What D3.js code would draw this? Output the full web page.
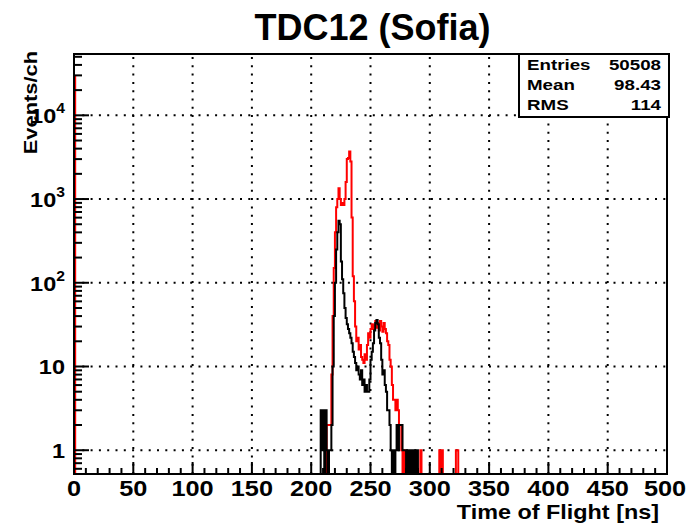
<!DOCTYPE html>
<html>
<head>
<meta charset="utf-8">
<script src="https://cdn.jsdelivr.net/npm/d3@7"></script>
<style>
  body { margin: 0; background: #fff; }
  svg { display: block; font-family: "Liberation Sans", Arial, sans-serif; font-weight: bold; }
</style>
</head>
<body>
<div id="chart"></div>
<script>
// histogram contents, 1 ns per channel
const redFirstBin = 0
const redFirstCount = 29000 // big channel at t = 0 (hugs the left frame)

const redStart = 206
const redCounts = [
  0, 0, 0, 0, 0, 0, 0,                // 206-212
  2, 2, 2, 2,                         // 213-216
  8, 40, 150, 400, 800, 1000, 1350,   // 217-223
  1000, 850, 900, 850, 1000, 1600,    // 224-229
  3000, 3100, 3700, 2800, 600,        // 230-234
  120, 60, 30, 20, 22, 16, 18, 13,    // 235-242
  12, 11, 14, 12, 18, 25, 22, 28,     // 243-250
  32, 28, 31, 35, 29, 33, 27, 35,     // 251-258
  30, 26, 33, 28, 25, 20, 18, 12,     // 259-266
  10, 6, 4, 4, 3, 4, 3, 2, 2, 1, 0, 1,// 267-278
  0, 0, 0, 0, 0, 0, 0, 0, 0, 0, 0, 0, 0, // 279-291
  1,                                  // 292
  0, 0, 0, 0, 0, 0, 0, 0, 0, 0, 0, 0, 0, 0, 0, // 293-307
  1, 0, 1,                            // 308-310
  0, 0, 0, 0, 0, 0, 0, 0, 0, 0, 0,    // 311-321
  1, 1, 0, 0                          // 322-325
]

const blackStart = 206
const blackCounts = [
  0, 0,                               // 206-207
  3, 1, 3, 0, 3, 1,                   // 208-213
  0, 1, 1,                            // 214-216
  2, 10, 40, 100, 250, 400, 550,      // 217-223
  500, 180, 110, 75, 50, 38, 32,      // 224-230
  28, 25, 22, 19, 15, 13, 11, 9,      // 231-238
  10, 8, 7, 9, 6, 7, 5, 6, 5, 5,      // 239-248
  7, 12, 15, 19, 27, 33, 36, 32,      // 249-256
  22, 19, 12, 8, 9, 6, 5, 3, 3, 2,    // 257-266
  1, 0, 1, 0, 1, 2, 1, 2, 2, 2, 1, 1, // 267-278
  1, 0, 1, 0, 1, 0, 1, 0, 1, 0, 1, 0, // 279-290
  0, 0                                // 291-292
]

const xTicks = [0, 50, 100, 150, 200, 250, 300, 350, 400, 450, 500]
const yDecades = [1, 10, 100, 1000, 10000]
const statNames = ['Entries', 'Mean', 'RMS']
const statValues = ['50508', '98.43', '114']

const width = 686
const height = 525
const frame = { left: 74, right: 667, top: 54, bottom: 474 }

const svg = d3.select('#chart')
  .append('svg')
  .attr('width', width)
  .attr('height', height)

const xScale = d3.scaleLinear()
  .domain([0, 500])
  .range([frame.left, frame.right])

const yScale = d3.scaleLog()
  .domain([0.52, 54000])
  .range([frame.bottom, frame.top])

svg.append('defs').append('clipPath')
  .attr('id', 'frameClip')
  .append('rect')
  .attr('x', frame.left)
  .attr('y', frame.top)
  .attr('width', frame.right - frame.left)
  .attr('height', frame.bottom - frame.top)

// dotted grid
const grid = svg.append('g')
  .attr('stroke', '#000')
  .attr('stroke-width', 2)
  .attr('stroke-dasharray', '2 6.3')
grid.selectAll('.gx')
  .data(xTicks.slice(1, -1))
  .enter()
  .append('line')
  .attr('x1', d => xScale(d))
  .attr('x2', d => xScale(d))
  .attr('y1', frame.bottom)
  .attr('y2', frame.top)
grid.selectAll('.gy')
  .data(yDecades)
  .enter()
  .append('line')
  .attr('x1', frame.left)
  .attr('x2', frame.right)
  .attr('y1', d => yScale(d))
  .attr('y2', d => yScale(d))

// histogram outline as steps, empty channels drop below the frame
const toPoints = (start, counts) => {
  const pts = [[start, 0]]
  counts.forEach((c, i) => pts.push([start + i, c]))
  pts.push([start + counts.length, 0])
  return pts
}
const yOf = v => v > 0 ? yScale(v) : frame.bottom + 4

const step = d3.line()
  .x(d => xScale(d[0]))
  .y(d => yOf(d[1]))
  .curve(d3.curveStepAfter)

const hist = svg.append('g').attr('clip-path', 'url(#frameClip)')

hist.append('path')
  .datum([[redFirstBin, redFirstCount], [redFirstBin + 1, 0]])
  .attr('fill', 'none')
  .attr('stroke', '#ff0000')
  .attr('stroke-width', 2)
  .attr('d', step)

hist.append('path')
  .datum(toPoints(redStart, redCounts))
  .attr('fill', 'none')
  .attr('stroke', '#ff0000')
  .attr('stroke-width', 2)
  .attr('d', step)

hist.append('path')
  .datum(toPoints(blackStart, blackCounts))
  .attr('fill', 'none')
  .attr('stroke', '#000')
  .attr('stroke-width', 2)
  .attr('d', step)

// x axis ticks (inside frame)
const xMinor = d3.range(0, 501, 10)
svg.append('g')
  .selectAll('line')
  .data(xMinor)
  .enter()
  .append('line')
  .attr('x1', d => xScale(d))
  .attr('x2', d => xScale(d))
  .attr('y1', frame.bottom)
  .attr('y2', d => frame.bottom - (d % 50 === 0 ? 12 : 6))
  .attr('stroke', '#000')
  .attr('stroke-width', 2)

// labels are drawn a bit wide, like the original
svg.append('g')
  .selectAll('g')
  .data(xTicks)
  .enter()
  .append('g')
  .attr('transform', d => `translate(${Math.min(xScale(d), width - 21)}, 496)`)
  .append('text')
  .attr('transform', 'scale(1.15, 1)')
  .attr('text-anchor', 'middle')
  .attr('font-size', 22)
  .text(d => d)

// y axis ticks (log)
const yMinor = []
for (let e = -1; e <= 4; e++) {
  for (let m = 1; m <= 9; m++) {
    const v = m * Math.pow(10, e)
    if (v >= 0.52 && v <= 54000) yMinor.push(v)
  }
}
svg.append('g')
  .selectAll('line')
  .data(yMinor)
  .enter()
  .append('line')
  .attr('x1', frame.left)
  .attr('x2', d => frame.left + (yDecades.includes(d) ? 15 : 8))
  .attr('y1', d => yScale(d))
  .attr('y2', d => yScale(d))
  .attr('stroke', '#000')
  .attr('stroke-width', 2)

const yLabels = svg.append('g')
  .selectAll('g')
  .data(yDecades)
  .enter()
  .append('g')
  .attr('transform', d => `translate(65, ${yScale(d) + 8})`)
  .append('text')
  .attr('transform', 'scale(1.12, 1)')
  .attr('text-anchor', 'end')
  .attr('font-size', 21)
yLabels.each(function(d) {
  const t = d3.select(this)
  if (d < 100) {
    t.text(d)
  } else {
    t.append('tspan').text('10')
    t.append('tspan')
      .attr('dy', -10)
      .attr('font-size', 14)
      .text(Math.round(Math.log10(d)))
  }
})

// frame
svg.append('rect')
  .attr('x', frame.left)
  .attr('y', frame.top)
  .attr('width', frame.right - frame.left)
  .attr('height', frame.bottom - frame.top)
  .attr('fill', 'none')
  .attr('stroke', '#000')
  .attr('stroke-width', 2)

// titles
svg.append('text')
  .attr('x', (frame.left + frame.right) / 2 + 2)
  .attr('y', 40)
  .attr('text-anchor', 'middle')
  .attr('font-size', 36)
  .text('TDC12 (Sofia)')

svg.append('text')
  .attr('transform', `translate(659, 519) scale(1.2, 1)`)
  .attr('text-anchor', 'end')
  .attr('font-size', 19.5)
  .text('Time of Flight [ns]')

svg.append('text')
  .attr('transform', `translate(37, 51) rotate(-90) scale(1.15, 1)`)
  .attr('text-anchor', 'end')
  .attr('font-size', 19)
  .text('Events/ch')

// stats box
const box = { x: 519, y: 54, w: 150, h: 63 }
svg.append('rect')
  .attr('x', box.x)
  .attr('y', box.y)
  .attr('width', box.w)
  .attr('height', box.h)
  .attr('fill', '#fff')
  .attr('stroke', '#000')
  .attr('stroke-width', 2)

const stats = svg.append('g')
  .selectAll('g')
  .data(statNames)
  .enter()
  .append('g')
  .attr('transform', (d, i) => `translate(0, ${box.y + 16 + i * 20})`)
stats.append('text')
  .attr('transform', `translate(${box.x + 8}, 0) scale(1.25, 1)`)
  .attr('font-size', 15)
  .text(d => d)
stats.append('text')
  .attr('transform', `translate(${box.x + box.w - 8}, 0) scale(1.25, 1)`)
  .attr('text-anchor', 'end')
  .attr('font-size', 15)
  .text((d, i) => statValues[i])
</script>
</body>
</html>
